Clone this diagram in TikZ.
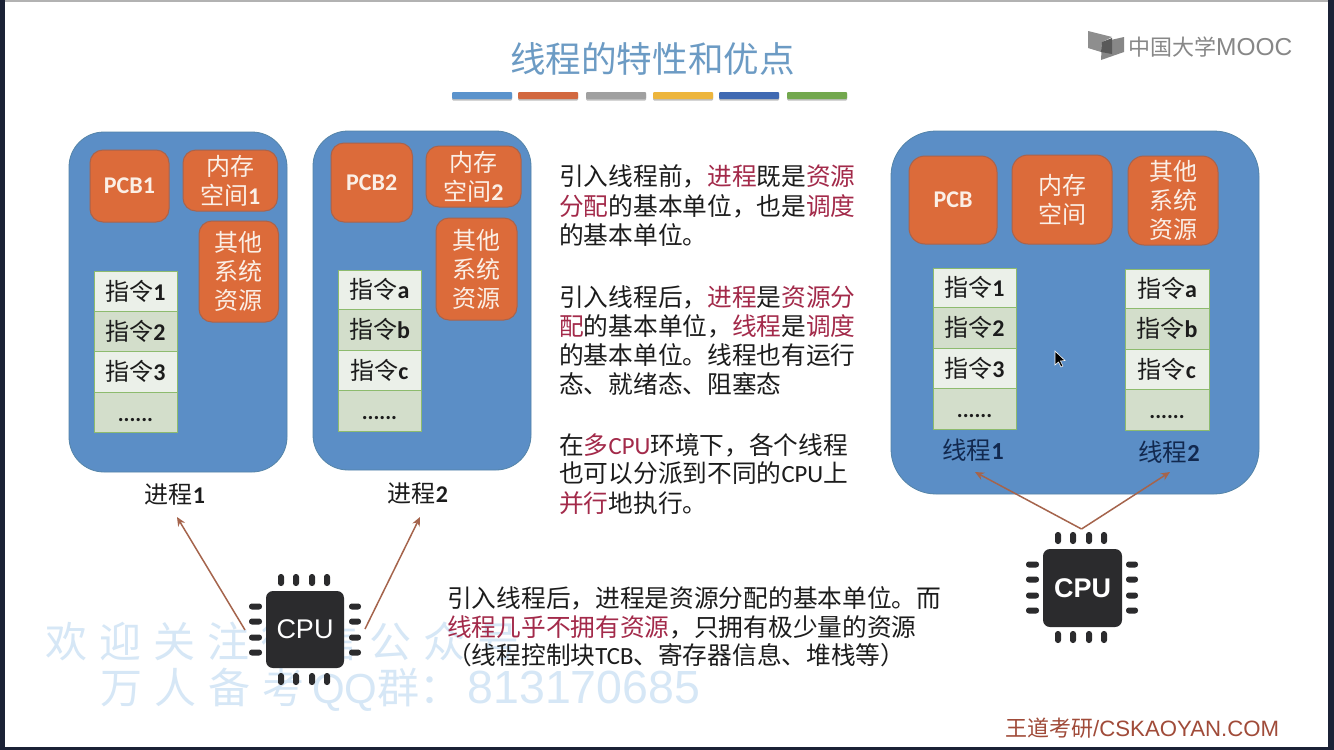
\documentclass[tikz,border=0pt]{standalone}
\usepackage{fontspec}
\usetikzlibrary{arrows.meta}
\setmainfont{Noto Sans CJK SC}
\newfontfamily\latf{Carlito}
\newfontfamily\arialf{Liberation Sans}
\newcommand{\lat}[1]{{\latf #1}}
\newcommand{\latb}[1]{{\latf\bfseries #1}}
\definecolor{bluebox}{HTML}{5B8EC6}
\definecolor{blueedge}{HTML}{5484A8}
\definecolor{orangebox}{HTML}{DC6B3A}
\definecolor{orangeedge}{HTML}{A9634C}
\definecolor{cream}{HTML}{FBEFE6}
\definecolor{lightrow}{HTML}{EBF0E9}
\definecolor{darkrow}{HTML}{D3DECB}
\definecolor{rowedge}{HTML}{8DBB6E}
\definecolor{inktext}{HTML}{1C1C1C}
\definecolor{redword}{HTML}{A32A4A}
\definecolor{arrowc}{HTML}{A5644C}
\definecolor{chipc}{HTML}{2B2B2D}
\definecolor{navytext}{HTML}{12294F}
\definecolor{markc}{HTML}{D6E7F6}
\definecolor{titlec}{HTML}{6C9BC4}
\definecolor{framec}{HTML}{1B2236}
\definecolor{footc}{HTML}{A04B39}
\definecolor{logoc}{HTML}{7A7A7A}
\newcommand{\rw}[1]{\textcolor{redword}{#1}}
\tikzset{
  x=1pt,y=-1pt,
  procbox/.style={draw=blueedge,fill=bluebox,line width=0.8pt},
  resbox/.style={draw=orangeedge,fill=orangebox,line width=1pt,rounded corners=13pt,text=cream,align=center,font=\fontsize{24}{29}\selectfont},
  rowa/.style={draw=rowedge,fill=lightrow,line width=1pt,text=inktext,font=\fontsize{24}{29}\selectfont},
  rowb/.style={rowa,fill=darkrow},
  bodyline/.style={anchor=base west,inner sep=0pt,text=inktext,font=\fontsize{24.7}{29}\selectfont},
  plabel/.style={text=inktext,inner sep=0pt,font=\fontsize{24}{29}\selectfont},
  tlabel/.style={text=navytext,inner sep=0pt,font=\fontsize{24.5}{29}\selectfont},
  flowarrow/.style={draw=arrowc,line width=1.5pt,-{Stealth[length=9pt,width=8pt]}},
  chipbody/.style={fill=chipc,rounded corners=7pt,text=white,inner sep=0pt},
  chippin/.style={fill=chipc,rounded corners=2.8pt},
  watermark/.style={text=markc,inner sep=0pt,anchor=base west,font=\fontsize{42}{50}\selectfont},
  titlebar/.style={rounded corners=1pt}
}
% name, style, x1, y1, x2, y2, text
\newcommand{\bx}[7]{%
  \pgfmathsetmacro{\bxw}{#5-#3}\pgfmathsetmacro{\bxh}{#6-#4}%
  \pgfmathsetmacro{\bxx}{(#3+#5)/2}\pgfmathsetmacro{\bxy}{(#4+#6)/2}%
  \node[#2,minimum width=\bxw pt,minimum height=\bxh pt,inner sep=0pt,outer sep=0pt] (#1) at (\bxx,\bxy) {#7};}
\newcommand{\rowdots}{\vphantom{指}{\latf\fontsize{22}{24}\selectfont\bfseries ......}}
% pins: left, top of body box
\newcommand{\chippins}[2]{%
  \foreach \pp in {15,30,46,61}{
    \fill[chippin] ({#1+\pp-3},{#2-17}) rectangle ({#1+\pp+3},{#2-5});
    \fill[chippin] ({#1+\pp-3},{#2+82}) rectangle ({#1+\pp+3},{#2+94});
    \fill[chippin] ({#1-17},{#2+\pp+0.5-3}) rectangle ({#1-4},{#2+\pp+0.5+3});
    \fill[chippin] ({#1+83},{#2+\pp+0.5-3}) rectangle ({#1+95},{#2+\pp+0.5+3});
  }}
\begin{document}
\begin{tikzpicture}
\useasboundingbox (0,0) rectangle (1334,750);
% frame and slide
\fill[framec] (0,0) rectangle (1334,750);
\fill[white] (5,2) rectangle (1328,747);
\fill[gray!60] (5,0) rectangle (1328,2);
% watermark
\node[watermark] (mark1) at (45,657) {欢\hskip12pt迎\hskip12pt关\hskip12pt注\hskip12pt微\hskip12pt信\hskip12pt公\hskip12pt众\hskip12pt号};
\node[watermark] (mark2) at (100,703) {万\hskip12pt人\hskip12pt备\hskip12pt考\hskip8pt{\arialf QQ}群：\hskip6pt{\arialf\fontsize{46.5}{50}\selectfont 813170685}};
% title
\node[text=titlec,inner sep=0pt,font=\fontsize{35.6}{40}\selectfont] (title) at (652.5,59) {线程的特性和优点};
\foreach \xa/\xb/\xc in {452/512/5B93CC,518/578/D2683F,586/646/A0A0A0,653/713/EDB53C,719/779/3F69B2,787/847/73A84E}{
  \definecolor{barc}{HTML}{\xc}
  \fill[black!25,titlebar] (\xa,93.5) rectangle (\xb,100.5);
  \fill[barc,titlebar] (\xa,92) rectangle (\xb,99);
}
% logo
\fill[logoc!85] (1088,31) -- (1112,37) -- (1102,42) -- (1101,52) -- (1088,48) -- cycle;
\fill[logoc!90] (1102,42) -- (1124,37) -- (1124,52) -- (1101,60) -- cycle;
\fill[black!65] (1102,42) -- (1112,38) -- (1112,54) -- (1101,52) -- cycle;
\node[anchor=base west,inner sep=0pt,text=logoc!90,font=\fontsize{22}{24}\selectfont] (logo) at (1128,55) {中国大学{\arialf\fontsize{24.5}{24}\selectfont MOOC}};
% process 1
\bx{p1}{procbox,rounded corners=35pt}{69}{132}{287}{472}{}
\bx{p1pcb}{resbox}{90}{150}{169}{222}{\latb{PCB1}}
\bx{p1mem}{resbox}{183}{150}{277.5}{211}{内存\\空间\latb{1}}
\bx{p1oth}{resbox}{199}{221}{278.5}{322}{其他\\系统\\资源}
\bx{p1a}{rowa}{94}{271}{177}{311}{指令\latb{1}}
\bx{p1b}{rowb}{94}{311}{177}{351.5}{指令\latb{2}}
\bx{p1c}{rowa}{94}{351.5}{177}{392}{指令\latb{3}}
\bx{p1d}{rowb}{94}{392}{177}{432}{\rowdots}
\node[plabel] (p1lab) at (175,495) {进程\latb{1}};
% process 2
\bx{p2}{procbox,rounded corners=35pt}{313}{131}{531}{470}{}
\bx{p2pcb}{resbox}{331}{143}{412.5}{222}{\latb{PCB2}}
\bx{p2mem}{resbox}{426}{146}{521}{207}{内存\\空间\latb{2}}
\bx{p2oth}{resbox}{436}{218}{517}{320}{其他\\系统\\资源}
\bx{p2a}{rowa}{338}{270}{421}{309.5}{指令\latb{a}}
\bx{p2b}{rowb}{338}{309.5}{421}{350}{指令\latb{b}}
\bx{p2c}{rowa}{338}{350}{421}{390.5}{指令\latb{c}}
\bx{p2d}{rowb}{338}{390.5}{421}{431}{\rowdots}
\node[plabel] (p2lab) at (418,494) {进程\latb{2}};
% threaded process
\bx{p3}{procbox,rounded corners=45pt}{891}{131}{1259}{494}{}
\bx{p3pcb}{resbox,rounded corners=16pt}{909}{156}{997}{244}{\latb{PCB}}
\bx{p3mem}{resbox,rounded corners=16pt}{1012}{155}{1112}{244}{内存\\空间}
\bx{p3oth}{resbox,rounded corners=16pt}{1128}{156}{1218}{245}{其他\\系统\\资源}
\bx{t1a}{rowa}{933}{268}{1016}{307.5}{指令\latb{1}}
\bx{t1b}{rowb}{933}{307.5}{1016}{348}{指令\latb{2}}
\bx{t1c}{rowa}{933}{348}{1016}{388.5}{指令\latb{3}}
\bx{t1d}{rowb}{933}{388.5}{1016}{429}{\rowdots}
\bx{t2a}{rowa}{1125}{269}{1209}{308.5}{指令\latb{a}}
\bx{t2b}{rowb}{1125}{308.5}{1209}{349}{指令\latb{b}}
\bx{t2c}{rowa}{1125}{349}{1209}{389.5}{指令\latb{c}}
\bx{t2d}{rowb}{1125}{389.5}{1209}{430}{\rowdots}
\node[tlabel] (t1lab) at (973,450) {线程\latb{1}};
\node[tlabel] (t2lab) at (1169,452) {线程\latb{2}};
% cursor
\draw[white,line width=0.6pt,fill=black] (1055,351) -- (1055,365) -- (1058.5,362) -- (1061,367) -- (1063,366) -- (1060.5,361) -- (1065,360.5) -- cycle;
% body text
\node[bodyline] (l1) at (559,185) {引入线程前，\rw{进程}既是\rw{资源}};
\node[bodyline] (l2) at (559,215) {\rw{分配}的基本单位，也是\rw{调度}};
\node[bodyline] (l3) at (559,244) {的基本单位。};
\node[bodyline] (l4) at (559,306) {引入线程后，\rw{进程}是\rw{资源分}};
\node[bodyline] (l5) at (559,335) {\rw{配}的基本单位，\rw{线程}是\rw{调度}};
\node[bodyline] (l6) at (559,364) {的基本单位。线程也有运行};
\node[bodyline] (l7) at (559,393) {态、就绪态、阻塞态};
\node[bodyline] (l8) at (559,454) {在\rw{多}\rw{\lat{CPU}}环境下，各个线程};
\node[bodyline] (l9) at (559,482) {也可以分派到不同的\lat{CPU}上};
\node[bodyline] (l10) at (559,512) {\rw{并行}地执行。};
\node[bodyline] (n1) at (447,607) {引入线程后，进程是资源分配的基本单位。而};
\node[bodyline] (n2) at (447,636) {\rw{线程几乎不拥有资源}，只拥有极少量的资源};
\node[bodyline] (n3) at (447,664) {（线程控制块\lat{TCB}、寄存器信息、堆栈等）};
% chips
\bx{cpuL}{chipbody,font=\arialf\fontsize{27}{30}\selectfont}{266}{591}{344}{668}{CPU}
\chippins{266}{591}
\bx{cpuR}{chipbody,font=\arialf\bfseries\fontsize{27}{30}\selectfont}{1043}{549}{1122}{627}{CPU}
\chippins{1043}{549}
% connectors
\coordinate (sL1) at (245,630);
\coordinate (tL1) at (177,517);
\coordinate (sL2) at (365,629);
\coordinate (tL2) at (420,517);
\coordinate (apex) at (1081.5,529);
\coordinate (tR1) at (975,472);
\coordinate (tR2) at (1170,472);
\draw[flowarrow] (sL1) -- (tL1);
\draw[flowarrow] (sL2) -- (tL2);
\draw[flowarrow] (apex) -- (tR1);
\draw[flowarrow] (apex) -- (tR2);
% footer
\node[anchor=base west,inner sep=0pt,text=footc,font=\fontsize{22}{24}\selectfont] (foot) at (1005,736) {王道考研{\arialf\fontsize{22.2}{24}\selectfont /CSKAOYAN.COM}};
\end{tikzpicture}
\end{document}
